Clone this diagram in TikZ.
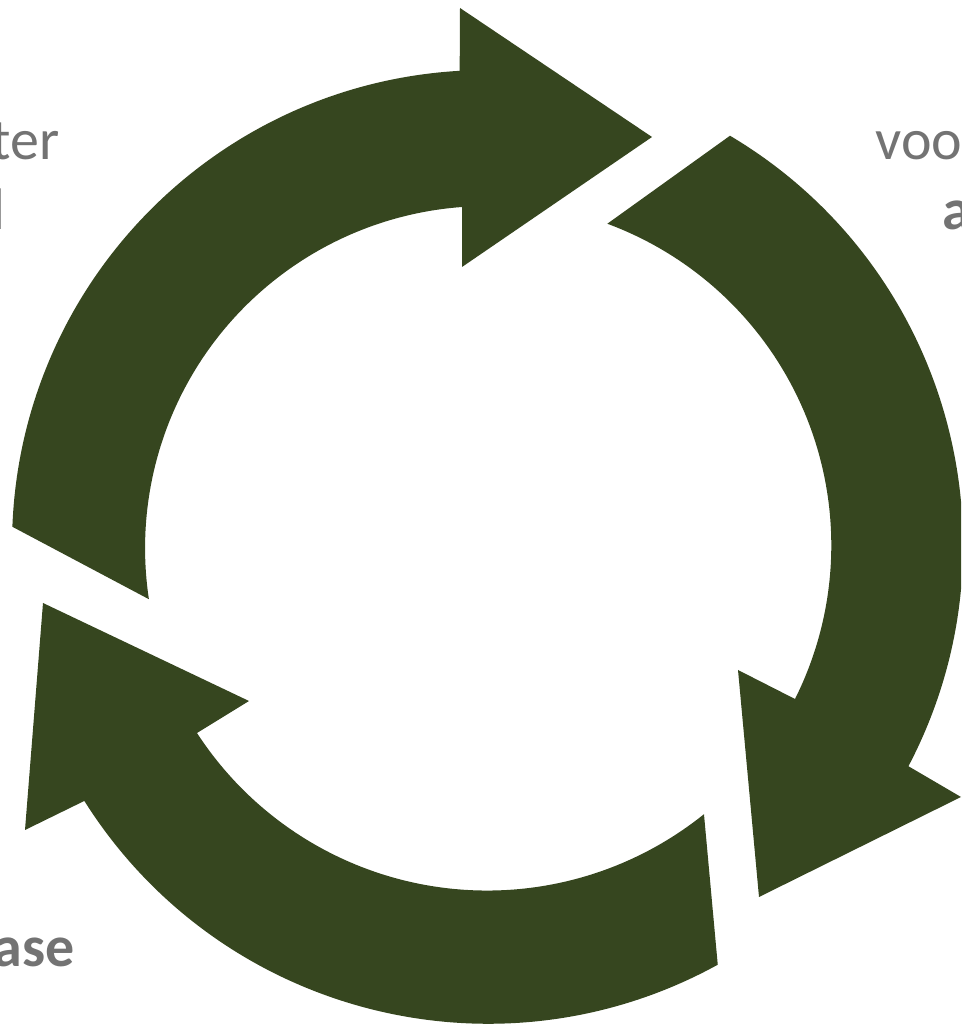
\documentclass[tikz,border=0pt]{standalone}
\usepackage{fontspec}
\setmainfont{Carlito}
\definecolor{cycgreen}{HTML}{36461F}
\definecolor{cycgray}{HTML}{737373}
\tikzset{
	cycarrow/.style={fill=cycgreen},
	cyclabel/.style={text=cycgray, inner sep=0, font=\fontsize{33}{33}\selectfont},
	cycbold/.style={cyclabel, font=\fontsize{33}{33}\selectfont\bfseries}
}
\begin{document}
\begin{tikzpicture}[x=0.02cm,y=0.02cm]

	\useasboundingbox (0,0) rectangle (961,1025);
	\clip (0,0) rectangle (961,1025);

	\node (ter) [cyclabel, anchor=base east] at (60, 865) {ter};
	\node (l) [cycbold, anchor=base east] at (5, 795) {l};
	\node (voo) [cyclabel, anchor=base west] at (875, 865) {voo};
	\node (a) [cycbold, anchor=base west] at (942, 795) {a};
	\node (ase) [cycbold, anchor=base east] at (75, 58) {ase};

	\begin{scope}[shift={(487,480)}]
		% top left
		\fill[cycarrow] (177.8:475) arc[start angle=177.8, end angle=93.3, radius=475]
			-- (460-487,1017-480) -- (652-487,888-480) -- (462-487,758-480) -- (462-487,818-480)
			arc[start angle=94.2, end angle=188.6, radius=342] -- cycle;
		% right
		\fill[cycarrow] (59.3:476) arc[start angle=59.3, end angle=-27.7, radius=476]
			-- (961-487,228-480) -- (759-487,128-480) -- (738-487,355-480) -- (795-487,326-480)
			arc[start angle=-26.6, end angle=69.7, radius=343] -- cycle;
		% bottom
		\fill[cycarrow] (-61.2:479) arc[start angle=-61.2, end angle=-147.8, radius=477]
			-- (25-487,195-480) -- (43-487,422-480) -- (249-487,324-480) -- (197-487,292-480)
			arc[start angle=-147, end angle=-51.2, radius=346] -- cycle;
	\end{scope}

\end{tikzpicture}
\end{document}
